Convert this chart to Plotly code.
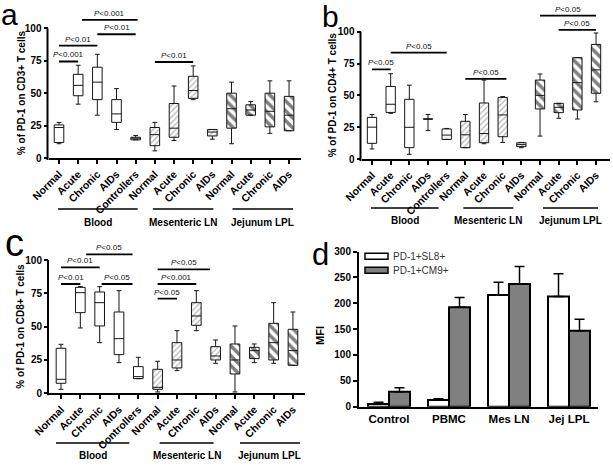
import plotly.graph_objects as go

W, H = 613, 466
FONT = "Arial, 'Liberation Sans', sans-serif"

# ---------------- data ----------------
categories = ["Normal", "Acute", "Chronic", "AIDs", "Controllers",
              "Normal", "Acute", "Chronic", "AIDs",
              "Normal", "Acute", "Chronic", "AIDs"]
group_names = ["Blood", "Mesenteric LN", "Jejunum LPL"]
group_first = [0, 5, 9]
group_last = [4, 8, 12]

# Panel a: % PD-1 on CD3+ T cells
cd3_lower = [11, 41.5, 33, 22, 14, 5.5, 13.5, 45, 14.5, 11, 33, 19, 21]
cd3_q1 = [12, 48, 45, 27.5, 14, 9.5, 16, 46, 17, 23, 33, 24, 21]
cd3_median = [23.5, 56, 58.5, 34, 15.4, 18, 23, 52, 20, 38, 37, 36, 33]
cd3_q3 = [25.5, 64.5, 70, 45, 16, 23.5, 42, 63, 22, 50, 41, 50, 47.5]
cd3_upper = [27.4, 71.5, 80, 53.5, 17.4, 27.5, 55.5, 71, 22, 58.5, 43.5, 59.5, 59.5]
cd3_sig_from = [0, 0, 1.2, 2, 5]
cd3_sig_to = [1, 2, 4.1, 4, 7]
cd3_sig_level = [74.4, 86.7, 106.5, 95.4, 74]
cd3_sig_text = ["P<0.001", "P<0.01", "P<0.001", "P<0.01", "P<0.01"]

# Panel b: % PD-1 on CD4+ T cells
cd4_lower = [7.9, 35.9, 3.7, 22.3, 15.4, 8.9, 12, 13, 8.9, 18, 32, 31.4, 45]
cd4_q1 = [12.3, 36.6, 8.9, 31.4, 15.4, 8.9, 12.8, 17.5, 9.7, 39.3, 36.4, 38.5, 51.6]
cd4_median = [25, 43, 24.9, 31.4, 18.8, 19, 20, 34.6, 11.3, 50, 40.6, 60, 70]
cd4_q3 = [32.7, 57, 46.9, 31.4, 23.6, 29.6, 44, 48.4, 12.8, 62, 43.7, 79.6, 90]
cd4_upper = [35, 67, 58, 35, 24, 35, 62, 49, 13, 66.8, 43.7, 79.6, 99]
cd4_sig_from = [0, 1, 5, 9, 10]
cd4_sig_to = [1, 4, 7.2, 12, 12]
cd4_sig_level = [70.4, 83.5, 63, 112.6, 101.5]
cd4_sig_text = ["P<0.05", "P<0.05", "P<0.05", "P<0.05", "P<0.05"]

# Panel c: % PD-1 on CD8+ T cells
cd8_lower = [3, 49, 38, 23, 11, 1, 17, 47, 22.5, 1, 23, 22.5, 21]
cd8_q1 = [7.5, 60.5, 50.5, 29, 11, 3, 19, 51, 25, 14.5, 26, 25, 21]
cd8_median = [10.5, 75.5, 68, 41, 12.5, 4.5, 25, 58, 28, 25, 32, 38, 32]
cd8_q3 = [33.75, 79.5, 76, 61, 20, 18, 38, 68, 35, 37, 34.5, 52.5, 48]
cd8_upper = [36.75, 80, 80, 77, 27, 24, 47, 77, 40, 50.5, 37, 68, 61]
cd8_sig_from = [1.3, 0, 0, 2.1, 5, 5, 5]
cd8_sig_to = [3.7, 2, 1, 3.7, 7.7, 7, 6]
cd8_sig_level = [104.2, 94.5, 82, 82, 93, 82, 71]
cd8_sig_text = ["P<0.05", "P<0.01", "P<0.01", "P<0.05", "P<0.05", "P<0.001", "P<0.05"]

# Panel d: MFI
mfi_categories = ["Control", "PBMC", "Mes LN", "Jej LPL"]
mfi_series = ["PD-1+SL8+", "PD-1+CM9+"]
sl8_mfi = [5, 13, 216, 213]
sl8_err = [3.4, 2.5, 24.6, 44]
cm9_mfi = [29, 192, 237, 147]
cm9_err = [7.8, 19, 34, 22]

# ---------------- geometry (pixel layout of the panels) ----------------
geom = {
    "a": dict(x0=48.5, x1=301, c0=59, s=19.17, y0=158, y100=28.3, ymax=120,
              gl0=[-1, -2, 1], gl1=[2, 1, 4], ytx=21, gly=209, glab=222),
    "b": dict(x0=361.5, x1=610, c0=372, s=18.67, y0=159, y100=31.7, ymax=120,
              gl0=[-1, -2, 3], gl1=[-8, -8, 2], ytx=332, gly=208, glab=221),
    "c": dict(x0=49, x1=305, c0=61, s=19.33, y0=393.3, y100=260, ymax=120,
              gl0=[-5, 2, 5], gl1=[-9, -2, 7], ytx=21, gly=443, glab=455),
}
gd = dict(x0=359, x1=598, c0=389, s=60, y0=406.7, ytop=251.5, ymax=300)


def ppu(g):
    return (g["y0"] - g["y100"]) / 100.0


def xdom(g):
    return [g["x0"] / W, g["x1"] / W]


def xrng(g):
    return [(g["x0"] - g["c0"]) / g["s"], (g["x1"] - g["c0"]) / g["s"]]


def ydom(g):
    top = g["y0"] - g["ymax"] * ppu(g)
    return [1 - g["y0"] / H, min(1.0, 1 - top / H)]


def xpx(g, v):
    return g["c0"] + g["s"] * v


def ypaper_val(g, v):
    return 1 - (g["y0"] - v * ppu(g)) / H


def bold(t):
    return "<b>" + t + "</b>"


fig = go.Figure()
shapes = []
annotations = []

panels = [
    ("a", "x", "y", cd3_lower, cd3_q1, cd3_median, cd3_q3, cd3_upper,
     cd3_sig_from, cd3_sig_to, cd3_sig_level, cd3_sig_text, "% of PD-1 on CD3+ T cells"),
    ("b", "x2", "y2", cd4_lower, cd4_q1, cd4_median, cd4_q3, cd4_upper,
     cd4_sig_from, cd4_sig_to, cd4_sig_level, cd4_sig_text, "% of PD-1 on CD4+ T cells"),
    ("c", "x3", "y3", cd8_lower, cd8_q1, cd8_median, cd8_q3, cd8_upper,
     cd8_sig_from, cd8_sig_to, cd8_sig_level, cd8_sig_text, "% of PD-1 on CD8+ T cells"),
]

xs = list(range(len(categories)))
layout_axes = {}

for (key, xa, ya, lo, q1, med, q3, up, sf, st, sl, stxt, ytitle) in panels:
    g = geom[key]
    # hatched fills (Mesenteric LN and Jejunum LPL)
    hatch_specs = [(1, "/", "#707070", 4, 0.32), (2, "\\", "#000000", 7, 0.5)]
    for gi, shape, col, size, sol in hatch_specs:
        idx = list(range(group_first[gi], group_last[gi] + 1))
        fig.add_trace(go.Bar(
            x=idx, base=[q1[i] for i in idx], y=[q3[i] - q1[i] for i in idx],
            width=0.5, xaxis=xa, yaxis=ya, showlegend=False, hoverinfo="skip",
            marker=dict(color="white", line=dict(width=0),
                        pattern=dict(shape=shape, fgcolor=col, bgcolor="white",
                                     size=size, solidity=sol)),
        ))
    # box plots
    fig.add_trace(go.Box(
        x=xs, q1=q1, median=med, q3=q3, lowerfence=lo, upperfence=up,
        width=0.5, whiskerwidth=0.5, boxpoints=False,
        line=dict(color="#151515", width=1), fillcolor="rgba(0,0,0,0)",
        xaxis=xa, yaxis=ya, showlegend=False, hoverinfo="skip",
    ))
    # significance bars
    sx, sy = [], []
    for f, t, lv in zip(sf, st, sl):
        sx += [f, t, None]
        sy += [lv, lv, None]
    fig.add_trace(go.Scatter(
        x=sx, y=sy, mode="lines", line=dict(color="black", width=1.8),
        xaxis=xa, yaxis=ya, showlegend=False, hoverinfo="skip",
    ))
    for f, t, lv, tx in zip(sf, st, sl, stxt):
        annotations.append(dict(
            x=(f + t) / 2, y=lv, xref=xa, yref=ya, xanchor="center", yanchor="bottom",
            text="<i>P</i>&lt;" + tx.split("<")[1], showarrow=False,
            font=dict(family=FONT, size=8, color="#111"),
        ))
    # axes
    n = "" if xa == "x" else xa[1:]
    layout_axes["xaxis" + n] = dict(
        domain=xdom(g), range=xrng(g), anchor=ya, tickmode="array",
        tickvals=xs, ticktext=[bold(c) for c in categories], tickangle=-45,
        tickfont=dict(family=FONT, size=10.5, color="black"),
        ticks="outside", ticklen=4, tickwidth=1.5, tickcolor="black",
        showline=True, linewidth=2, linecolor="black",
        showgrid=False, zeroline=False,
    )
    yt = [0, 25, 50, 75, 100]
    layout_axes["yaxis" + n] = dict(
        domain=ydom(g), range=[0, g["ymax"]], anchor=xa, tickmode="array",
        tickvals=yt, ticktext=[bold(str(v)) for v in yt],
        tickfont=dict(family=FONT, size=10, color="black"),
        ticks="outside", ticklen=4, tickwidth=2, tickcolor="black",
        showline=False, showgrid=False, zeroline=False,
    )
    # y axis line (0..100 only)
    shapes.append(dict(type="line", xref="paper", yref="paper",
                       x0=(g["x0"] - 1) / W, x1=(g["x0"] - 1) / W,
                       y0=ypaper_val(g, 0) - 2 / H, y1=ypaper_val(g, 100),
                       line=dict(color="black", width=2)))
    # y title
    annotations.append(dict(
        x=g["ytx"] / W, y=ypaper_val(g, 50), xref="paper", yref="paper",
        xanchor="center", yanchor="middle",
        text=bold(ytitle), textangle=-90, showarrow=False,
        font=dict(family=FONT, size=10, color="black"),
    ))
    # group underlines & labels
    for gi, name in enumerate(group_names):
        xa0 = xpx(g, group_first[gi]) + g["gl0"][gi]
        xa1 = xpx(g, group_last[gi]) + g["gl1"][gi]
        shapes.append(dict(type="line", xref="paper", yref="paper",
                           x0=xa0 / W, x1=xa1 / W, y0=1 - g["gly"] / H, y1=1 - g["gly"] / H,
                           line=dict(color="black", width=1.5)))
        annotations.append(dict(
            x=(xa0 + xa1) / 2 / W, y=1 - g["glab"] / H, xref="paper", yref="paper",
            xanchor="center", yanchor="middle",
            text=bold(name), showarrow=False,
            font=dict(family=FONT, size=10, color="black"),
        ))

# ---------------- panel d ----------------
mx = list(range(len(mfi_categories)))
fig.add_trace(go.Bar(
    x=mx, y=sl8_mfi, width=0.35, offset=-0.35, name=mfi_series[0],
    xaxis="x4", yaxis="y4", showlegend=False,
    marker=dict(color="white", line=dict(color="black", width=2)),
    error_y=dict(type="data", symmetric=False, array=sl8_err,
                 arrayminus=[0] * len(sl8_err), color="black", thickness=1.5, width=5),
))
fig.add_trace(go.Bar(
    x=mx, y=cm9_mfi, width=0.35, offset=0, name=mfi_series[1],
    xaxis="x4", yaxis="y4", showlegend=False,
    marker=dict(color="#808080", line=dict(color="black", width=2)),
    error_y=dict(type="data", symmetric=False, array=cm9_err,
                 arrayminus=[0] * len(cm9_err), color="black", thickness=1.5, width=5),
))
layout_axes["xaxis4"] = dict(
    domain=[gd["x0"] / W, gd["x1"] / W],
    range=[(gd["x0"] - gd["c0"]) / gd["s"], (gd["x1"] - gd["c0"]) / gd["s"]],
    anchor="y4", tickmode="array", tickvals=mx, ticktext=[bold(c) for c in mfi_categories],
    tickfont=dict(family=FONT, size=11.5, color="black"),
    ticks="", showline=True, linewidth=2, linecolor="black",
    showgrid=False, zeroline=False,
)
dt = [0, 50, 100, 150, 200, 250, 300]
layout_axes["yaxis4"] = dict(
    domain=[1 - gd["y0"] / H, 1 - gd["ytop"] / H], range=[0, gd["ymax"]],
    anchor="x4", tickmode="array", tickvals=dt, ticktext=[bold(str(v)) for v in dt],
    tickfont=dict(family=FONT, size=10, color="black"),
    ticks="outside", ticklen=4, tickwidth=2, tickcolor="black",
    showline=True, linewidth=2, linecolor="black",
    showgrid=False, zeroline=False,
)
annotations.append(dict(
    x=320 / W, y=1 - 336 / H, xref="paper", yref="paper", text=bold("MFI"),
    xanchor="center", yanchor="middle",
    textangle=-90, showarrow=False,
    font=dict(family=FONT, size=11, color="black"),
))
# legend (manual)
leg_fill = ["white", "#808080"]
leg_y = [256.3, 270.2]
for name, fc, ly in zip(mfi_series, leg_fill, leg_y):
    shapes.append(dict(type="rect", xref="paper", yref="paper",
                       x0=365 / W, x1=388 / W, y0=1 - (ly + 3) / H, y1=1 - (ly - 3) / H,
                       fillcolor=fc, line=dict(color="black", width=1.5)))
    annotations.append(dict(
        x=391 / W, y=1 - ly / H, xref="paper", yref="paper", text=name,
        xanchor="left", yanchor="middle", showarrow=False,
        font=dict(family=FONT, size=10, color="#333"),
    ))

# panel letters
for letter, lx, ly, fs in [("a", 9, 15, 30), ("b", 330, 16, 30),
                           ("c", 14, 243, 38), ("d", 320, 254, 31)]:
    annotations.append(dict(
        x=lx / W, y=1 - ly / H, xref="paper", yref="paper", text=letter,
        showarrow=False, xanchor="center", yanchor="middle",
        font=dict(family=FONT, size=fs, color="black"),
    ))

fig.update_layout(
    width=W, height=H, margin=dict(l=0, r=0, t=0, b=0, autoexpand=False),
    paper_bgcolor="white", plot_bgcolor="white",
    barmode="overlay", boxmode="overlay", showlegend=False,
    shapes=shapes, annotations=annotations, **layout_axes,
)
fig.write_html("out.html", config={"displayModeBar": False},
               post_script="document.body.style.margin='0px';document.body.style.overflow='hidden';")
